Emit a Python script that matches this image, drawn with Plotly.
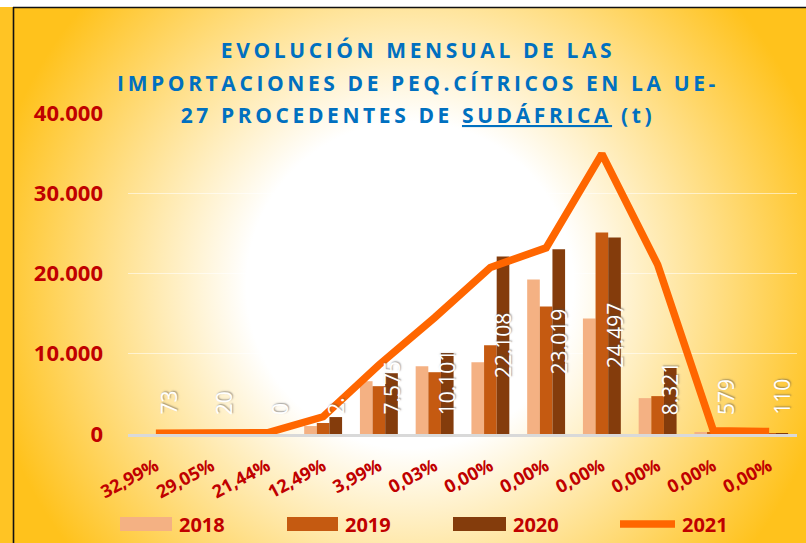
import base64
import plotly.graph_objects as go

# ---------------- data ----------------
pct_labels = ["32,99%", "29,05%", "21,44%", "12,49%", "3,99%", "0,03%",
              "0,00%", "0,00%", "0,00%", "0,00%", "0,00%", "0,00%"]
series_names = ["2018", "2019", "2020", "2021"]
v2018 = [0, 0, 0, 990, 6580, 8450, 8950, 19250, 14400, 4470, 150, 50]
v2019 = [0, 0, 0, 1370, 5960, 7700, 11050, 15900, 25100, 4720, 150, 50]
v2020 = [73, 20, 0, 2110, 7575, 10101, 22108, 23019, 24497, 8321, 579, 110]
v2021 = [100, 30, 150, 2150, 8600, 14500, 20750, 23200, 34900, 21100, 400, 300]
labels_2020 = ["73", "20", "0", "2.", "7.575", "10.101", "22.108", "23.019",
               "24.497", "8.321", "579", "110"]
y_ticks = [0, 10000, 20000, 30000, 40000]

# ---------------- style ----------------
W, H = 806, 543
ML, MR, MT, MB = 128, 9, 113, 109
PW, PH = W - ML - MR, H - MT - MB
YMAX = 40000
RED = "#C00000"
BLUE = "#0070C0"
COLORS = ["#F4B183", "#C55A11", "#843C0C", "#FF6600"]
FONT = "Open Sans"
BARGAP = 0.32

def px2x(px):
    return (px - ML) / PW

def py2y(py):
    return (H - MB - py) / PH

idx = list(range(len(pct_labels)))

fig = go.Figure()
for name, vals, col in zip(series_names[:3], [v2018, v2019, v2020], COLORS[:3]):
    fig.add_trace(go.Bar(x=idx, y=vals, name=name, marker_color=col,
                         marker_line_width=0, showlegend=False,
                         hoverinfo="y+name"))
fig.add_trace(go.Scatter(x=idx, y=v2021, name=series_names[3], mode="lines",
                         line=dict(color=COLORS[3], width=7.5),
                         showlegend=False))

# ---------------- background (svg gradient) ----------------
svg = f'''<svg xmlns="http://www.w3.org/2000/svg" width="{W}" height="{H}" viewBox="0 0 {W} {H}">
<defs><radialGradient id="g" gradientUnits="userSpaceOnUse" cx="410" cy="285" r="430">
<stop offset="0" stop-color="#FFFFFF"/><stop offset="0.38" stop-color="#FFFFFF"/>
<stop offset="1" stop-color="#FFC21C"/></radialGradient></defs>
<rect width="{W}" height="{H}" fill="#FFC424"/>
<rect x="13" y="7" width="{W-13}" height="{H-7}" fill="url(#g)"/>
<rect width="{W}" height="7" fill="#FFFFFF"/>
<line x1="13.5" y1="7" x2="13.5" y2="{H}" stroke="#111" stroke-width="1.6"/>
<line x1="13" y1="7.5" x2="{W}" y2="7.5" stroke="#111" stroke-width="1.6"/>
</svg>'''
src = "data:image/svg+xml;base64," + base64.b64encode(svg.encode()).decode()

annotations = []
# 2020 data labels
ppu = PH / YMAX
bw = (1 - BARGAP) / 3
lab_font = dict(family=FONT, size=21, color="white",
                shadow="1px 1px 1.5px rgba(80,80,80,0.55)")
for i, (v, lab) in enumerate(zip(v2020, labels_2020)):
    est = sum(12.3 if c.isdigit() else 5.6 for c in lab)
    if v * ppu / 2 >= 18 + est / 2:
        annotations.append(dict(x=i + bw, y=v / 2, xref="x", yref="y", text=lab,
                                textangle=-90, showarrow=False, xanchor="center",
                                yanchor="middle", font=lab_font))
    else:
        annotations.append(dict(x=i + bw, y=0, xref="x", yref="y", text=lab,
                                textangle=-90, showarrow=False, xanchor="center",
                                yanchor="bottom", yshift=17, font=lab_font))

# manual legend
shapes = []
leg = [(120, 172, 177), (287, 338, 343), (453, 506, 511), (618, 677, 680)]
for k, (a, b, t) in enumerate(leg):
    if k < 3:
        shapes.append(dict(type="rect", xref="paper", yref="paper",
                           x0=px2x(a), x1=px2x(b), y0=py2y(531), y1=py2y(517),
                           fillcolor=COLORS[k], line=dict(width=0), layer="above"))
    else:
        shapes.append(dict(type="line", xref="paper", yref="paper",
                           x0=px2x(a + 2), x1=px2x(b - 2), y0=py2y(524), y1=py2y(524),
                           line=dict(color=COLORS[k], width=7.5), layer="above"))
    annotations.append(dict(x=px2x(t), y=py2y(524), xref="paper", yref="paper",
                            text=series_names[k], showarrow=False, xanchor="left",
                            yanchor="middle",
                            font=dict(family=FONT, size=20, color=RED, weight="bold")))

sp = '<span style="font-size:21px;letter-spacing:3.6px">'
title_text = (sp + "EVOLUCIÓN MENSUAL DE LAS</span><br>" +
              sp + "IMPORTACIONES DE PEQ.CÍTRICOS EN LA UE-</span><br>" +
              sp + "27 PROCEDENTES DE <u>SUDÁFRICA</u> (t)</span>")

fig.update_layout(
    width=W, height=H,
    margin=dict(l=ML, r=MR, t=MT, b=MB, pad=0),
    paper_bgcolor="#FFC424",
    plot_bgcolor="rgba(0,0,0,0)",
    barmode="group", bargap=BARGAP, bargroupgap=0,
    separators=",.",
    showlegend=False,
    title=dict(text=title_text, x=418 / W, xanchor="center", xref="container",
               y=1 - 58 / H, yanchor="top", yref="container",
               font=dict(family=FONT, size=25, color=BLUE, weight="bold")),
    images=[dict(source=src, xref="paper", yref="paper", x=px2x(0), y=py2y(0),
                 sizex=W / PW, sizey=H / PH, xanchor="left", yanchor="top",
                 sizing="stretch", layer="below")],
    xaxis=dict(range=[-0.5, len(idx) - 0.5], tickmode="array", tickvals=idx,
               ticktext=pct_labels, tickangle=-28, showgrid=False,
               zeroline=False, showline=True, linecolor="#D9D9D9", linewidth=2.5,
               ticks="", ticklabelstandoff=12,
               tickfont=dict(family=FONT, size=18, color=RED, weight="bold")),
    yaxis=dict(range=[0, YMAX], tickmode="array", tickvals=y_ticks,
               tickformat=",d", showgrid=True, gridcolor="rgba(255,255,255,0.55)",
               gridwidth=1, zeroline=False, showline=False, ticks="",
               ticklabelstandoff=24,
               tickfont=dict(family=FONT, size=22, color=RED, weight="bold")),
    annotations=annotations,
    shapes=shapes,
)

fig.write_html("out.html", config={"displayModeBar": False},
               post_script="document.body.style.margin='0';document.body.style.padding='0';")
